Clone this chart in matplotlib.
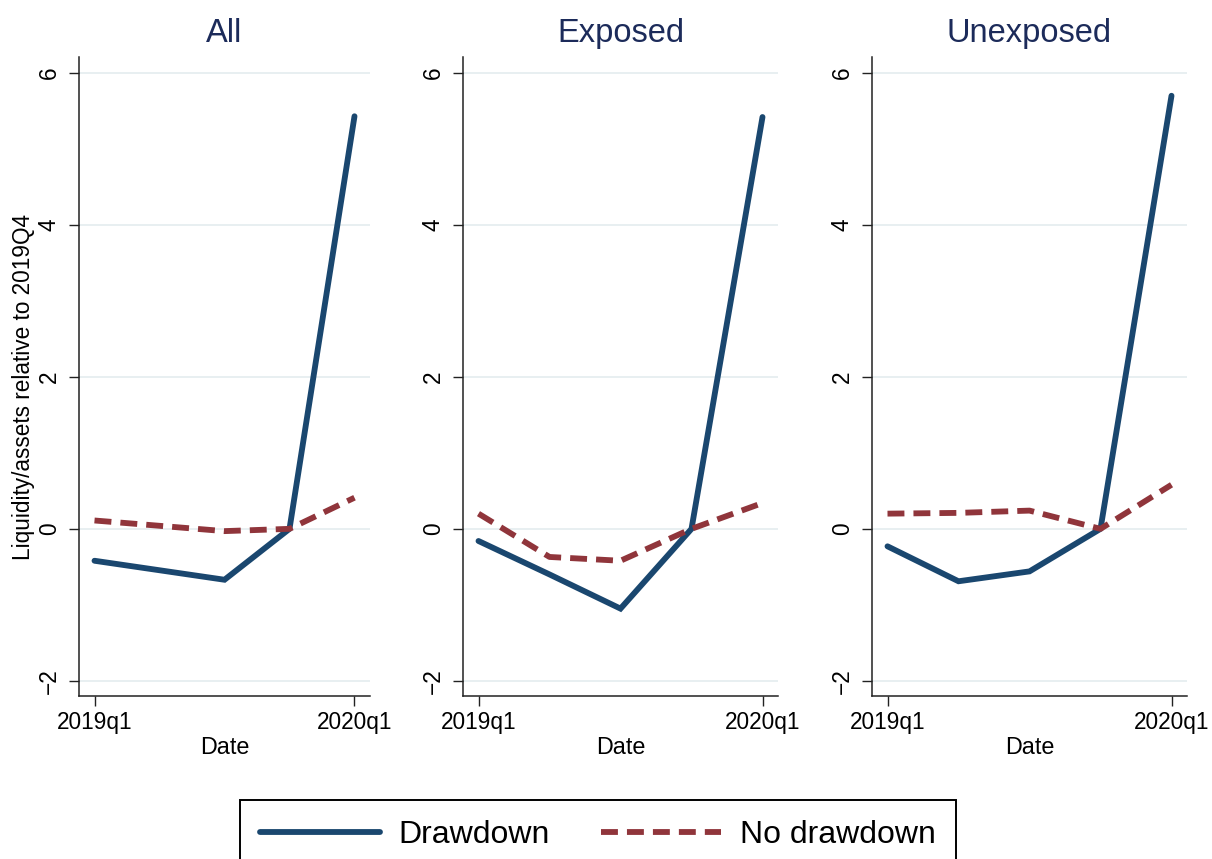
import matplotlib
matplotlib.use('Agg')
from matplotlib import pyplot as plt

plt.rcParams['font.family'] = ['Liberation Sans', 'DejaVu Sans']

# quarters 2019q1 .. 2020q1
quarters = [0, 1, 2, 3, 4]
tick_pos = [0, 4]
tick_labels = ['2019q1', '2020q1']
y_ticks = [-2, 0, 2, 4, 6]

panel_titles = ['All', 'Exposed', 'Unexposed']

all_draw = [-0.42, -0.545, -0.67, 0.0, 5.43]
all_nodraw = [0.11, 0.04, -0.03, 0.0, 0.41]
exp_draw = [-0.16, -0.60, -1.05, 0.0, 5.42]
exp_nodraw = [0.20, -0.37, -0.42, 0.0, 0.34]
unexp_draw = [-0.23, -0.69, -0.56, 0.0, 5.70]
unexp_nodraw = [0.20, 0.21, 0.24, 0.0, 0.58]

draw_series = [all_draw, exp_draw, unexp_draw]
nodraw_series = [all_nodraw, exp_nodraw, unexp_nodraw]

BLUE = '#1a476f'
RED = '#90353b'
GRID = '#e6eef0'
TITLE = '#1c2b5a'

W, H = 1212, 859
fig = plt.figure(figsize=(W / 100, H / 100), dpi=100)

# panel boxes in pixels: left, right ; top / bottom shared
boxes = [(79, 370), (463, 778), (872, 1187)]
top_px, bot_px = 57, 696
pad_px = 15.5

for i, (l, r) in enumerate(boxes):
	ax = fig.add_axes([l / W, 1 - bot_px / H, (r - l) / W, (bot_px - top_px) / H])
	# keep a fixed pixel margin on both sides of the x range
	step = (r - l - 2 * pad_px) / 4
	ax.set_xlim(-pad_px / step, 4 + pad_px / step)
	ax.set_ylim(-2.2, 6.21)

	for yv in y_ticks:
		ax.axhline(yv, color=GRID, lw=1.3, zorder=0)

	ax.plot(quarters, draw_series[i], color=BLUE, lw=4.2, solid_capstyle='round',
			solid_joinstyle='miter', label='Drawdown', zorder=3)
	ax.plot(quarters, nodraw_series[i], color=RED, lw=4.2, dashes=(2.9, 1.55),
			dash_capstyle='butt', label='No drawdown', zorder=4)

	ax.spines['top'].set_visible(False)
	ax.spines['right'].set_visible(False)
	for s in ['left', 'bottom']:
		ax.spines[s].set_linewidth(1.1)
		ax.spines[s].set_color('#222222')

	ax.set_xticks(tick_pos)
	ax.set_xticklabels(tick_labels, fontsize=16.3)
	ax.set_yticks(y_ticks)
	ax.set_yticklabels([str(v).replace('-', '\u2212') for v in y_ticks], fontsize=16.3,
					   rotation=90, va='center')
	ax.tick_params(axis='both', length=7, width=1.0, color='#222222')
	ax.tick_params(axis='y', pad=6)
	ax.tick_params(axis='x', pad=4)

	ax.set_xlabel('Date', fontsize=16.8, labelpad=1)
	ax.set_title(panel_titles[i], fontsize=23.5, color=TITLE, pad=11)
	if i == 0:
		ax.set_ylabel('Liquidity/assets relative to 2019Q4', fontsize=16.3, labelpad=2)
		ax.yaxis.label.set_y(0.484)
		handles, labels = ax.get_legend_handles_labels()

leg = fig.legend(handles, labels, loc='upper center', bbox_to_anchor=(598 / W, 1 - 800 / H),
				 ncol=2, fontsize=23, handlelength=3.75, handletextpad=0.6,
				 columnspacing=1.6, borderpad=0.62, borderaxespad=0,
				 frameon=True, fancybox=False, framealpha=1)
leg.get_frame().set_edgecolor('black')
leg.get_frame().set_linewidth(1.4)

fig.savefig('out.png', dpi=100)
